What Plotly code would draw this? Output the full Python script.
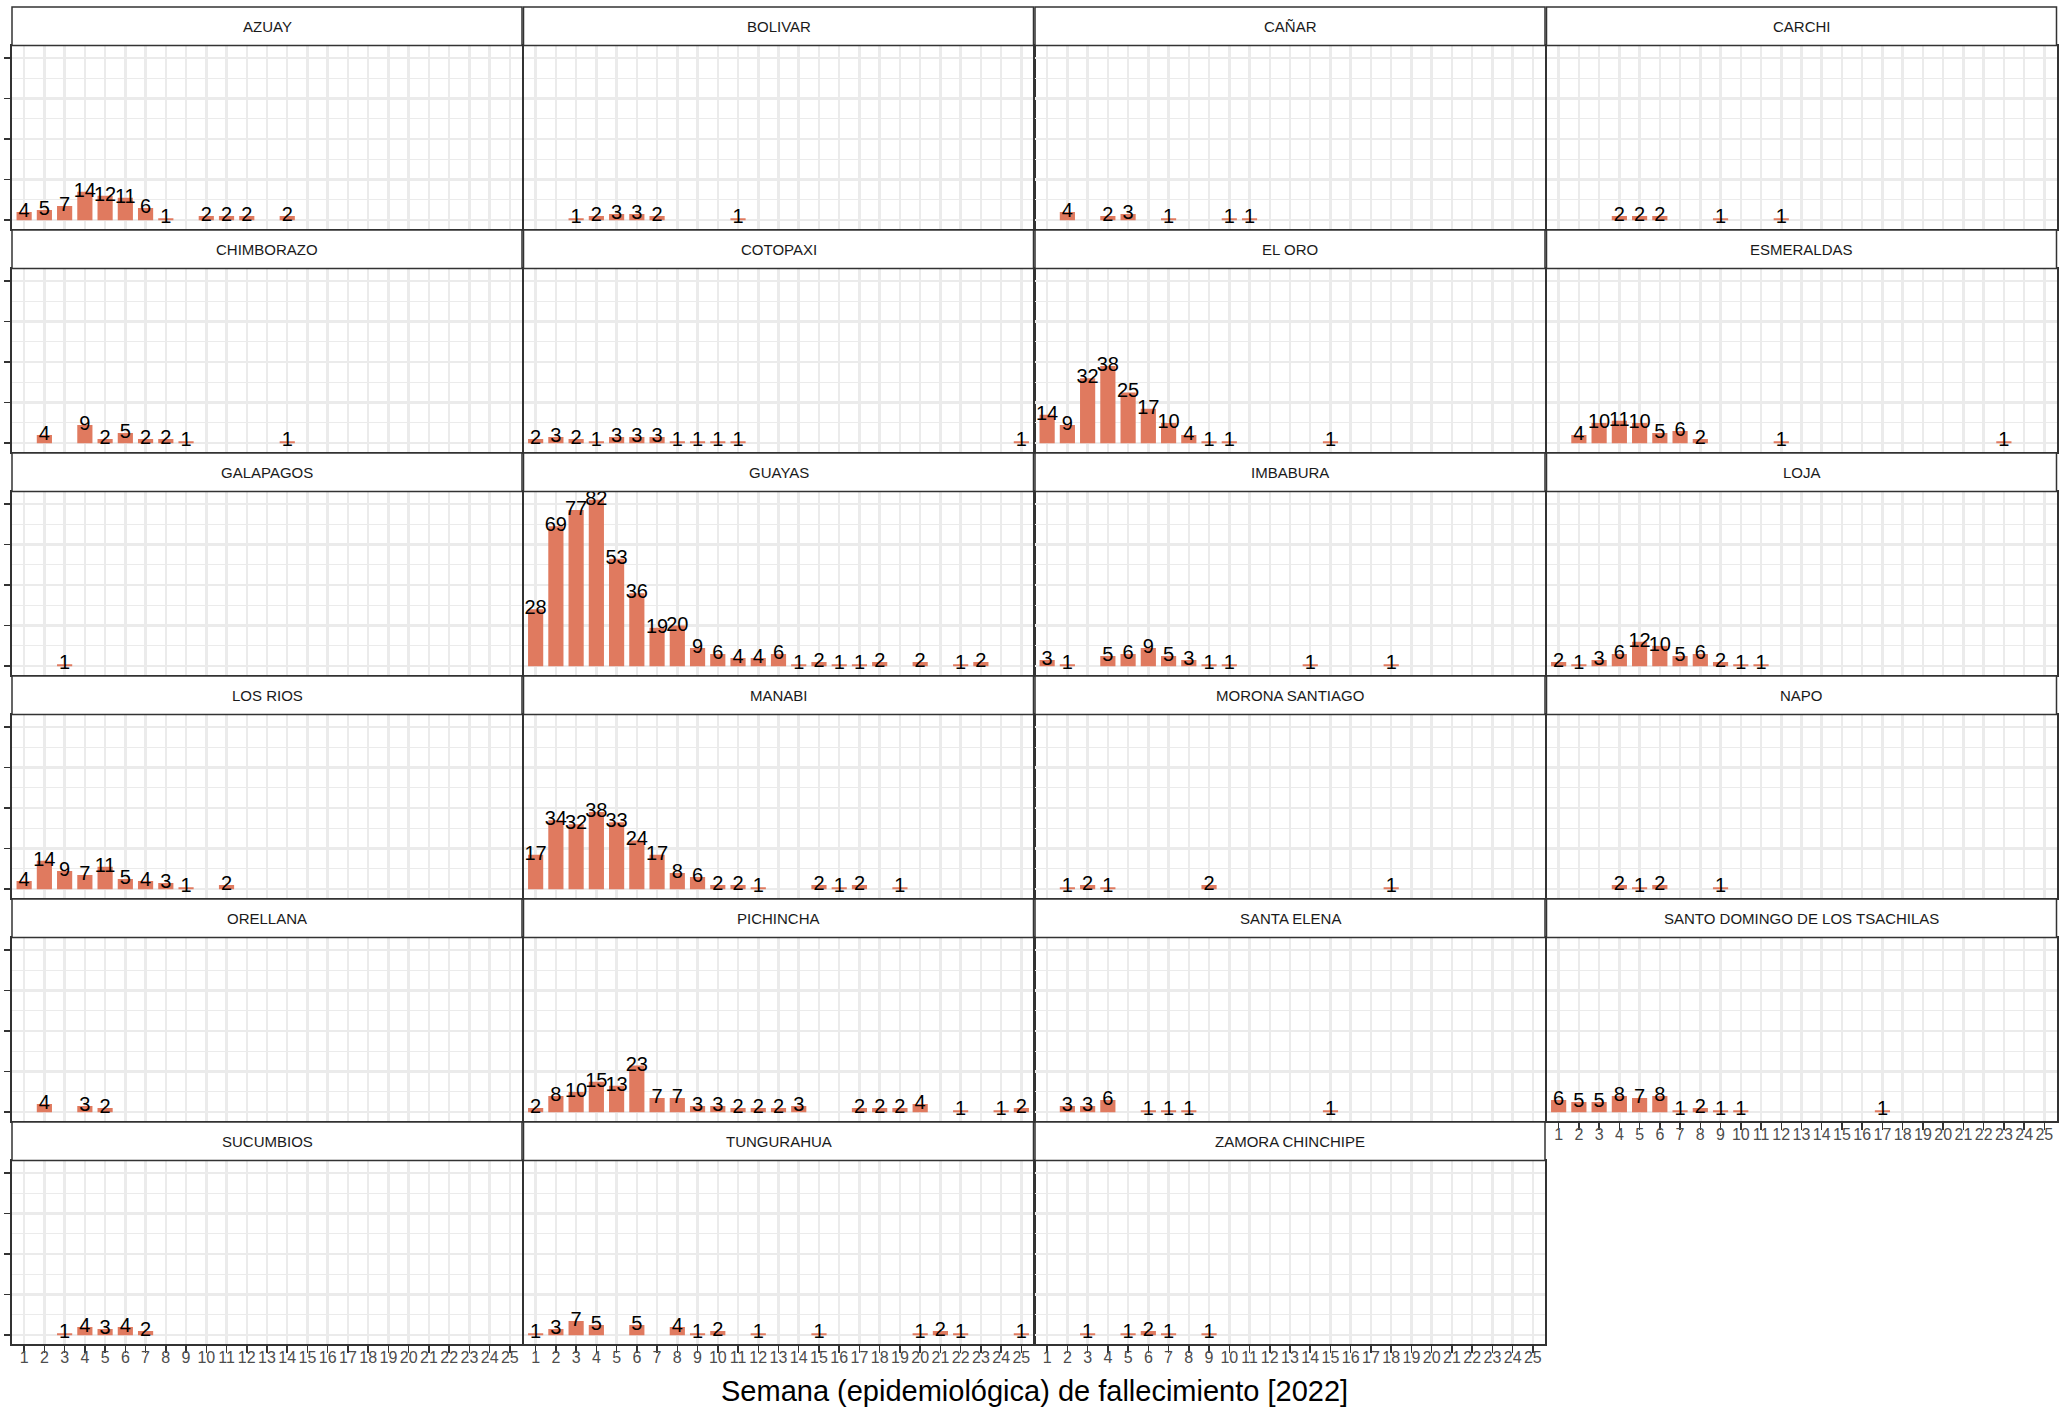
import plotly.graph_objects as go

# semanas epidemiológicas 1..25
semanas = list(range(1, 26))
etiquetas_semana = [str(s) for s in semanas]

provincias = ['AZUAY', 'BOLIVAR', 'CAÑAR', 'CARCHI',
              'CHIMBORAZO', 'COTOPAXI', 'EL ORO', 'ESMERALDAS',
              'GALAPAGOS', 'GUAYAS', 'IMBABURA', 'LOJA',
              'LOS RIOS', 'MANABI', 'MORONA SANTIAGO', 'NAPO',
              'ORELLANA', 'PICHINCHA', 'SANTA ELENA', 'SANTO DOMINGO DE LOS TSACHILAS',
              'SUCUMBIOS', 'TUNGURAHUA', 'ZAMORA CHINCHIPE']

# fallecidos por semana (1..25)
azuay = [4, 5, 7, 14, 12, 11, 6, 1, 0, 2, 2, 2, 0, 2, 0, 0, 0, 0, 0, 0, 0, 0, 0, 0, 0]
bolivar = [0, 0, 1, 2, 3, 3, 2, 0, 0, 0, 1, 0, 0, 0, 0, 0, 0, 0, 0, 0, 0, 0, 0, 0, 0]
canar = [0, 4, 0, 2, 3, 0, 1, 0, 0, 1, 1, 0, 0, 0, 0, 0, 0, 0, 0, 0, 0, 0, 0, 0, 0]
carchi = [0, 0, 0, 2, 2, 2, 0, 0, 1, 0, 0, 1, 0, 0, 0, 0, 0, 0, 0, 0, 0, 0, 0, 0, 0]
chimborazo = [0, 4, 0, 9, 2, 5, 2, 2, 1, 0, 0, 0, 0, 1, 0, 0, 0, 0, 0, 0, 0, 0, 0, 0, 0]
cotopaxi = [2, 3, 2, 1, 3, 3, 3, 1, 1, 1, 1, 0, 0, 0, 0, 0, 0, 0, 0, 0, 0, 0, 0, 0, 1]
el_oro = [14, 9, 32, 38, 25, 17, 10, 4, 1, 1, 0, 0, 0, 0, 1, 0, 0, 0, 0, 0, 0, 0, 0, 0, 0]
esmeraldas = [0, 4, 10, 11, 10, 5, 6, 2, 0, 0, 0, 1, 0, 0, 0, 0, 0, 0, 0, 0, 0, 0, 1, 0, 0]
galapagos = [0, 0, 1, 0, 0, 0, 0, 0, 0, 0, 0, 0, 0, 0, 0, 0, 0, 0, 0, 0, 0, 0, 0, 0, 0]
guayas = [28, 69, 77, 82, 53, 36, 19, 20, 9, 6, 4, 4, 6, 1, 2, 1, 1, 2, 0, 2, 0, 1, 2, 0, 0]
imbabura = [3, 1, 0, 5, 6, 9, 5, 3, 1, 1, 0, 0, 0, 1, 0, 0, 0, 1, 0, 0, 0, 0, 0, 0, 0]
loja = [2, 1, 3, 6, 12, 10, 5, 6, 2, 1, 1, 0, 0, 0, 0, 0, 0, 0, 0, 0, 0, 0, 0, 0, 0]
los_rios = [4, 14, 9, 7, 11, 5, 4, 3, 1, 0, 2, 0, 0, 0, 0, 0, 0, 0, 0, 0, 0, 0, 0, 0, 0]
manabi = [17, 34, 32, 38, 33, 24, 17, 8, 6, 2, 2, 1, 0, 0, 2, 1, 2, 0, 1, 0, 0, 0, 0, 0, 0]
morona_santiago = [0, 1, 2, 1, 0, 0, 0, 0, 2, 0, 0, 0, 0, 0, 0, 0, 0, 1, 0, 0, 0, 0, 0, 0, 0]
napo = [0, 0, 0, 2, 1, 2, 0, 0, 1, 0, 0, 0, 0, 0, 0, 0, 0, 0, 0, 0, 0, 0, 0, 0, 0]
orellana = [0, 4, 0, 3, 2, 0, 0, 0, 0, 0, 0, 0, 0, 0, 0, 0, 0, 0, 0, 0, 0, 0, 0, 0, 0]
pichincha = [2, 8, 10, 15, 13, 23, 7, 7, 3, 3, 2, 2, 2, 3, 0, 0, 2, 2, 2, 4, 0, 1, 0, 1, 2]
santa_elena = [0, 3, 3, 6, 0, 1, 1, 1, 0, 0, 0, 0, 0, 0, 1, 0, 0, 0, 0, 0, 0, 0, 0, 0, 0]
santo_domingo = [6, 5, 5, 8, 7, 8, 1, 2, 1, 1, 0, 0, 0, 0, 0, 0, 1, 0, 0, 0, 0, 0, 0, 0, 0]
sucumbios = [0, 0, 1, 4, 3, 4, 2, 0, 0, 0, 0, 0, 0, 0, 0, 0, 0, 0, 0, 0, 0, 0, 0, 0, 0]
tungurahua = [1, 3, 7, 5, 0, 5, 0, 4, 1, 2, 0, 1, 0, 0, 1, 0, 0, 0, 0, 1, 2, 1, 0, 0, 1]
zamora_chinchipe = [0, 0, 1, 0, 1, 2, 1, 0, 1, 0, 0, 0, 0, 0, 0, 0, 0, 0, 0, 0, 0, 0, 0, 0, 0]

fallecidos = [azuay, bolivar, canar, carchi, chimborazo, cotopaxi, el_oro, esmeraldas,
              galapagos, guayas, imbabura, loja, los_rios, manabi, morona_santiago, napo,
              orellana, pichincha, santa_elena, santo_domingo, sucumbios, tungurahua,
              zamora_chinchipe]

W, H = 2068, 1407
FONT = 'Liberation Sans, Arial, sans-serif'
BAR_COLOR = '#E07A5F'
GRID = '#EBEBEB'
BORDER = '#333333'

col_left = [12, 523.5, 1035, 1546.5]
col_w = 510
row_top0, row_pitch = 7, 223
strip_h, plot_h = 38.5, 183

fig = go.Figure()
layout = {}
shapes = []
annotations = []

n_cols = 4
n = len(provincias)
for i, (prov, vals) in enumerate(zip(provincias, fallecidos)):
    r, c = divmod(i, n_cols)
    k = '' if i == 0 else str(i + 1)
    bottom_panel = (i + n_cols) >= n

    x0 = col_left[c]
    x1 = x0 + col_w
    s_top = row_top0 + row_pitch * r
    p_top = s_top + strip_h
    p_bot = p_top + plot_h

    fig.add_trace(go.Bar(
        x=semanas, y=vals, width=0.75,
        marker_color=BAR_COLOR, marker_line_width=0,
        xaxis='x' + k, yaxis='y' + k,
    ))
    xs = [s for s, v in zip(semanas, vals) if v > 0]
    ys = [v for v in vals if v > 0]
    fig.add_trace(go.Scatter(
        x=xs, y=ys, text=[str(v) for v in ys], mode='text',
        textposition='middle center',
        textfont=dict(family=FONT, size=20, color='black'),
        xaxis='x' + k, yaxis='y' + k,
    ))

    layout['xaxis' + k] = dict(
        domain=[x0 / W, x1 / W], anchor='y' + k, range=[0.4, 25.6],
        tickmode='array', tickvals=semanas, ticktext=etiquetas_semana,
        showticklabels=bottom_panel, ticks='outside' if bottom_panel else '',
        ticklen=7, tickwidth=1.5, tickcolor=BORDER, ticklabelstandoff=-9,
        tickfont=dict(family=FONT, size=16, color='#4D4D4D'),
        showgrid=True, gridcolor=GRID, gridwidth=2.5, zeroline=False,
        showline=True, mirror=True, linecolor=BORDER, linewidth=2,
    )
    layout['yaxis' + k] = dict(
        domain=[1 - p_bot / H, 1 - p_top / H], anchor='x' + k, range=[-4.1, 86.1],
        tickmode='array', tickvals=[0, 20, 40, 60, 80], showticklabels=False,
        ticks='outside' if c == 0 else '', ticklen=6, tickwidth=1.5, tickcolor=BORDER,
        showgrid=True, gridcolor=GRID, gridwidth=2.5, zeroline=False,
        minor=dict(tickmode='array', tickvals=[10, 30, 50, 70], showgrid=True,
                   gridcolor=GRID, gridwidth=1.2),
        showline=True, mirror=True, linecolor=BORDER, linewidth=2,
    )

    shapes.append(dict(type='rect', xref='paper', yref='paper',
                       x0=x0 / W, x1=x1 / W, y0=1 - p_top / H, y1=1 - s_top / H,
                       fillcolor='white', line=dict(color=BORDER, width=1.5)))
    annotations.append(dict(text=prov, xref='paper', yref='paper',
                            x=(x0 + x1) / 2 / W, y=1 - (s_top + strip_h / 2) / H,
                            showarrow=False, xanchor='center', yanchor='middle',
                            font=dict(family=FONT, size=15, color='#1A1A1A')))

annotations.append(dict(text='Semana (epidemiológica) de fallecimiento [2022]',
                        xref='paper', yref='paper', x=1034.5 / W, y=1 - 1391 / H,
                        showarrow=False, xanchor='center', yanchor='middle',
                        font=dict(family=FONT, size=29, color='black')))

fig.update_layout(
    width=W, height=H,
    margin=dict(l=0, r=0, t=0, b=0),
    paper_bgcolor='white', plot_bgcolor='white',
    showlegend=False, barmode='overlay', hovermode=False,
    shapes=shapes, annotations=annotations,
    **layout,
)

# quitar el margen por defecto del body para que la figura ocupe toda la ventana
fig.write_html('out.html', config={'displayModeBar': False, 'staticPlot': True},
               post_script="document.body.style.margin='0';document.body.style.overflow='hidden';")
